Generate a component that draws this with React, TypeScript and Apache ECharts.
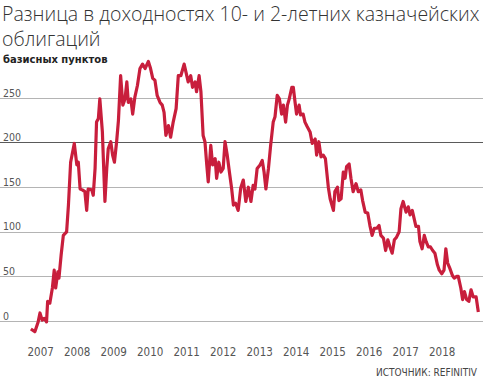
import React, { useEffect, useRef } from "react";
import * as echarts from "echarts";

const TITLE_LINE1 = "Разница в доходностях 10- и 2-летних казначейских";
const TITLE_LINE2 = "облигаций";
const UNIT = "базисных пунктов";
const SOURCE = "ИСТОЧНИК: REFINITIV";

const yearLabels = [2007, 2008, 2009, 2010, 2011, 2012, 2013, 2014, 2015, 2016, 2017, 2018];
const yTicks = [0, 50, 100, 150, 200, 250];

const dates = [
  2006.73, 2006.84, 2006.93, 2006.98, 2007.04, 2007.10, 2007.16, 2007.19, 2007.25, 2007.32,
  2007.37, 2007.41, 2007.47, 2007.50, 2007.56, 2007.62, 2007.71, 2007.76, 2007.82, 2007.92,
  2007.99, 2008.03, 2008.08, 2008.14, 2008.21, 2008.26, 2008.30, 2008.40, 2008.44, 2008.49,
  2008.53, 2008.58, 2008.62, 2008.69, 2008.72, 2008.76, 2008.81, 2008.85, 2008.92, 2008.97,
  2009.02, 2009.08, 2009.13, 2009.19, 2009.25, 2009.31, 2009.36, 2009.40, 2009.47, 2009.52,
  2009.58, 2009.65, 2009.72, 2009.79, 2009.86, 2009.95, 2010.01, 2010.07, 2010.13, 2010.19,
  2010.27, 2010.33, 2010.38, 2010.43, 2010.50, 2010.56, 2010.63, 2010.71, 2010.77, 2010.84,
  2010.93, 2010.98, 2011.04, 2011.11, 2011.16, 2011.23, 2011.27, 2011.34, 2011.39, 2011.45,
  2011.50, 2011.55, 2011.59, 2011.66, 2011.71, 2011.78, 2011.82, 2011.88, 2011.94, 2012.00,
  2012.05, 2012.11, 2012.17, 2012.23, 2012.28, 2012.34, 2012.41, 2012.48, 2012.55, 2012.62,
  2012.69, 2012.76, 2012.82, 2012.87, 2012.93, 2013.01, 2013.07, 2013.12, 2013.17, 2013.24,
  2013.30, 2013.37, 2013.42, 2013.48, 2013.54, 2013.60, 2013.65, 2013.71, 2013.76, 2013.81,
  2013.88, 2013.92, 2013.97, 2014.01, 2014.08, 2014.12, 2014.19, 2014.24, 2014.30, 2014.38,
  2014.44, 2014.52, 2014.56, 2014.62, 2014.68, 2014.74, 2014.80, 2014.88, 2014.93, 2015.02,
  2015.06, 2015.13, 2015.17, 2015.23, 2015.29, 2015.34, 2015.38, 2015.45, 2015.50, 2015.56,
  2015.64, 2015.70, 2015.77, 2015.82, 2015.89, 2015.96, 2016.02, 2016.08, 2016.14, 2016.21,
  2016.27, 2016.32, 2016.39, 2016.45, 2016.51, 2016.57, 2016.63, 2016.69, 2016.75, 2016.82,
  2016.87, 2016.93, 2017.01, 2017.07, 2017.12, 2017.18, 2017.23, 2017.28, 2017.35, 2017.39,
  2017.45, 2017.51, 2017.56, 2017.62, 2017.68, 2017.74, 2017.80, 2017.87, 2017.92, 2017.99,
  2018.05, 2018.10, 2018.15, 2018.21, 2018.28, 2018.33, 2018.40, 2018.44, 2018.51, 2018.56,
  2018.61, 2018.67, 2018.73, 2018.79, 2018.85, 2018.93, 2018.99,
];

const spread = [
  -9, -12, -1, 9, 1, 3, -1, 22, 20, 37,
  57, 37, 55, 48, 74, 96, 100, 130, 178, 199,
  175, 178, 148, 147, 145, 124, 148, 147, 141, 171,
  223, 227, 249, 212, 178, 134, 171, 193, 201, 186,
  178, 201, 225, 275, 242, 249, 268, 245, 249, 232,
  251, 264, 283, 288, 283, 291, 283, 272, 270, 253,
  245, 242, 234, 208, 219, 206, 223, 238, 275, 275,
  288, 279, 268, 275, 262, 268, 257, 275, 257, 208,
  201, 175, 156, 197, 175, 182, 160, 178, 167, 171,
  201, 186, 167, 149, 130, 132, 124, 149, 158, 134,
  150, 134, 152, 148, 171, 175, 180, 167, 148, 171,
  197, 223, 229, 253, 249, 232, 242, 223, 242, 249,
  262, 262, 245, 232, 242, 231, 232, 223, 218, 212,
  199, 204, 186, 201, 184, 186, 182, 150, 137, 124,
  145, 150, 135, 137, 167, 160, 173, 176, 160, 145,
  154, 145, 147, 135, 122, 121, 107, 96, 104, 104,
  107, 96, 93, 79, 91, 83, 76, 91, 94, 100,
  126, 134, 122, 128, 119, 124, 115, 106, 106, 89,
  81, 96, 89, 83, 83, 79, 76, 63, 57, 53,
  57, 81, 65, 59, 51, 48, 50, 50, 37, 24,
  33, 24, 22, 35, 27, 27, 10,
];

const NARROW = '"DejaVu Sans Condensed", "DejaVu Sans", sans-serif';
const LIGHT = '"Open Sans", sans-serif';

export default function App() {
  const ref = useRef<HTMLDivElement>(null);
  useEffect(() => {
    document.body.style.margin = "0";
    if (!ref.current) return;
    const chart = echarts.init(ref.current, null, { renderer: "svg" });
    const lineColors = [-50, ...yTicks, 300].map((v) =>
      v < 0 || v > 250 ? "rgba(0,0,0,0)" : v === 200 ? "#5a5a5a" : "#b4b4b4"
    );
    const titleStyle = { fontFamily: LIGHT, fontSize: 19.5, fontWeight: 300, color: "#333", lineHeight: 27 };
    chart.setOption({
      animation: false,
      backgroundColor: "#ffffff",
      title: [
        { text: TITLE_LINE1, left: 2, top: 0, padding: 0, textStyle: titleStyle },
        { text: TITLE_LINE2, left: 2, top: 25, padding: 0, textStyle: titleStyle },
        {
          text: UNIT,
          left: 3,
          top: 49,
          padding: [5, 0, 5, 0],
          textStyle: { fontFamily: '"DejaVu Sans", sans-serif', fontSize: 10, fontWeight: "bold", color: "#222" },
        },
        {
          text: SOURCE,
          right: 1,
          top: 362,
          textStyle: { fontFamily: NARROW, fontSize: 10, fontWeight: "normal", color: "#444" },
        },
      ],
      grid: { left: 0, right: 0, top: 53.4, bottom: 14.4, containLabel: false },
      xAxis: {
        type: "value",
        min: 2005.885,
        max: 2019.118,
        axisLine: { show: false },
        axisTick: { show: false },
        splitLine: { show: false },
        axisLabel: {
          customValues: yearLabels,
          inside: true,
          margin: 8,
          color: "#555",
          fontSize: 11.5,
          fontFamily: NARROW,
          formatter: (v: number) => String(Math.round(v)),
        },
      },
      yAxis: {
        type: "value",
        min: -50,
        max: 300,
        interval: 50,
        axisLine: { show: false },
        axisTick: { show: false },
        splitLine: { show: true, lineStyle: { color: lineColors, width: 1 } },
        axisLabel: {
          inside: true,
          margin: 3,
          align: "left",
          verticalAlign: "bottom",
          color: "#555",
          fontSize: 10.5,
          fontFamily: NARROW,
          formatter: (v: number) => (yTicks.includes(v) ? String(v) : ""),
        },
      },
      series: [
        {
          type: "line",
          data: dates.map((d, i) => [d, spread[i]]),
          showSymbol: false,
          symbol: "none",
          lineStyle: { color: "#c81e3c", width: 3.2, join: "round" },
          z: 3,
        },
      ],
    });
    return () => chart.dispose();
  }, []);
  return <div ref={ref} style={{ width: 483, height: 380, position: "absolute", left: 0, top: 0 }} />;
}
